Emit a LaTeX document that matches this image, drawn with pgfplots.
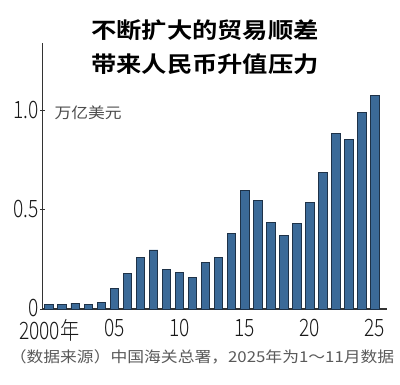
\documentclass[border=0pt]{standalone}
\usepackage{pgfplots}
\pgfplotsset{compat=1.18}
\usepackage{fontspec}
\setmainfont{Noto Sans CJK SC}
\newfontfamily\titlefont[FakeStretch=1.15]{Noto Sans CJK SC Bold}
\newfontfamily\cjkfont[FakeStretch=1.12]{Noto Sans CJK SC}
\newfontfamily\tickfont[FakeStretch=0.8]{Noto Sans CJK SC Light}
\definecolor{barfill}{HTML}{3B6A98}
\definecolor{barline}{HTML}{1E3248}
\definecolor{axisgray}{HTML}{333333}
\begin{document}
\begin{tikzpicture}[x=1pt,y=1pt]
\path[use as bounding box] (0,0) rectangle (400,384);
\begin{axis}[
  at={(42.7pt,75pt)}, anchor=south west,
  scale only axis, width=344pt, height=266pt,
  xmin=1999.5, xmax=2025.9, ymin=0, ymax=1.343,
  axis x line*=bottom, axis y line*=left,
  axis line style={axisgray, line width=1.3pt, -},
  ytick={0,0.5,1.0}, yticklabels={0,0.5,1.0},
  xtick={2000,2005,2010,2015,2020,2025},
  xticklabels={2000年,05,10,15,20,25},
  major tick length=5pt, tick align=center,
  x tick style={draw=none},
  y tick style={axisgray, line width=1pt},
  tick label style={font=\tickfont\fontsize{24}{24}\selectfont, text=black!90},
  yticklabel style={xshift=2pt, yshift=1pt},
  xticklabel style={yshift=-2pt},
  ybar, bar width=8.6pt,
]
\addplot[fill=barfill, draw=barline, line width=0.9pt] coordinates {
(2000,0.025) (2001,0.023) (2002,0.030) (2003,0.025) (2004,0.032)
(2005,0.102) (2006,0.178) (2007,0.262) (2008,0.298) (2009,0.198)
(2010,0.184) (2011,0.157) (2012,0.233) (2013,0.260) (2014,0.382)
(2015,0.600) (2016,0.547) (2017,0.438) (2018,0.370) (2019,0.432)
(2020,0.537) (2021,0.690) (2022,0.888) (2023,0.858) (2024,0.992)
(2025,1.076)
};
\end{axis}
\node[anchor=west, text=black!70, font=\cjkfont\fontsize{15}{15}\selectfont] at (51,271) {万亿美元};
\node[font=\titlefont\fontsize{22}{22}\selectfont] at (205,354) {不断扩大的贸易顺差};
\node[font=\titlefont\fontsize{22}{22}\selectfont] at (205,320) {带来人民币升值压力};
\node[text=black!65, font=\cjkfont\fontsize{15}{15}\selectfont] at (202,27) {（数据来源）中国海关总署，2025年为1～11月数据};
\end{tikzpicture}
\end{document}
